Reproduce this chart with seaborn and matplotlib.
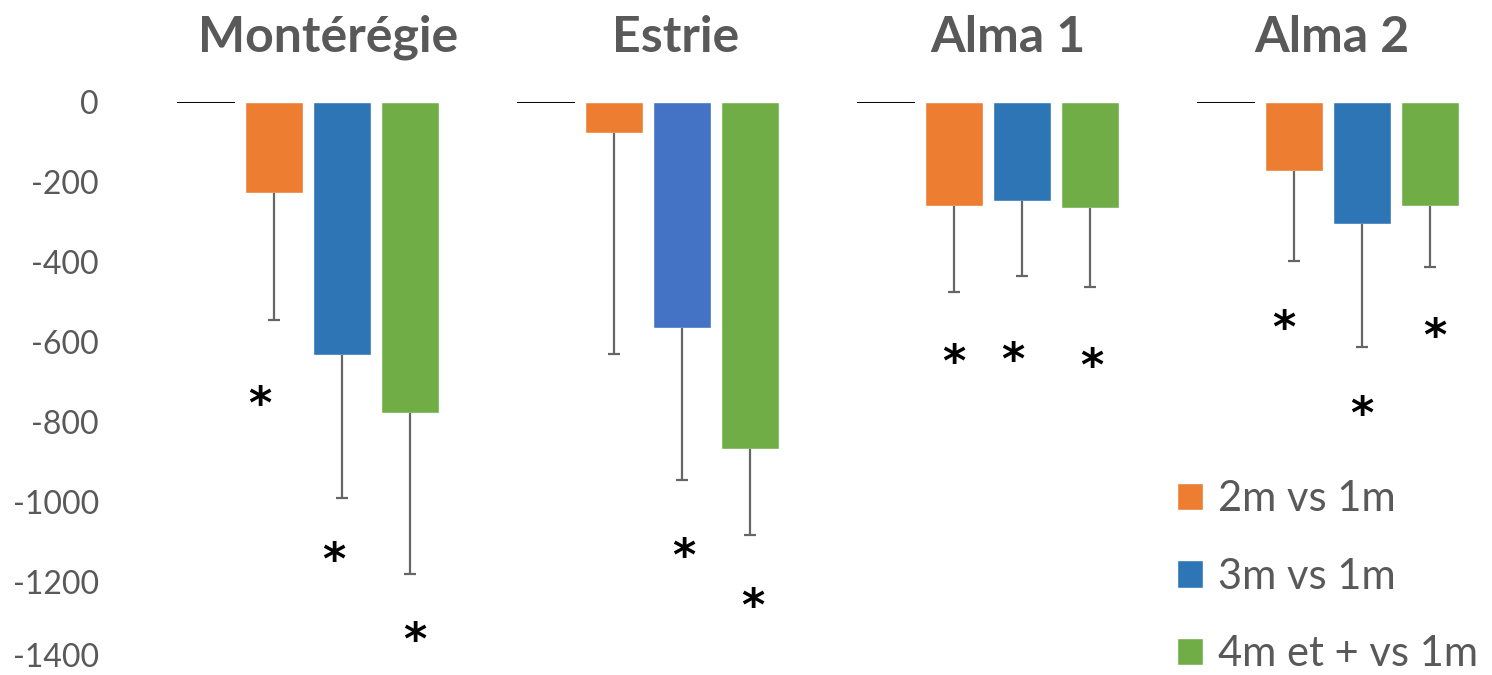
import matplotlib
matplotlib.use("Agg")
import matplotlib.pyplot as plt
import matplotlib.transforms as mtransforms
import pandas as pd
import seaborn as sns

# ---- data -------------------------------------------------------------
sites = ["Montérégie", "Estrie", "Alma 1", "Alma 2"]
series = ["1m", "2m vs 1m", "3m vs 1m", "4m et + vs 1m"]

# mean differences against the 1m reference (reference itself is 0)
diff_2m = [-227, -77, -260, -172]
diff_3m = [-632, -565, -247, -305]
diff_4m = [-777, -867, -265, -260]

# lower error-bar lengths
err_2m = [318, 553, 215, 226]
err_3m = [358, 380, 188, 307]
err_4m = [403, 215, 197, 152]

# significance markers: y level of the "*" under each bar (None = not significant)
star_2m = [-738, None, -635, -548]
star_3m = [-1128, -1120, -628, -765]
star_4m = [-1328, -1245, -645, -570]

y_ticks = [0, -200, -400, -600, -800, -1000, -1200, -1400]

# ---- styling ----------------------------------------------------------
colors = {"1m": "#FFFFFF", "2m vs 1m": "#ED7D31",
          "3m vs 1m": "#2E75B6", "4m et + vs 1m": "#70AD47"}
estrie_blue = "#4472C4"
grey_text = "#595959"
err_color = "#666666"
title_dx = [0.06, 1.08, 2.06, 3.01]   # horizontal placement of the site headers
# small horizontal nudges (pixels) of the hand-placed asterisks
star_nudge = [[-14, 0, 0, -10], [-8, 2, -9, 0], [5, 3, 2, 5]]

sns.set_theme(style="white")
plt.rcParams["font.family"] = ["Lato", "DejaVu Sans"]

rows = []
for i, s in enumerate(sites):
    rows.append((s, "1m", 0))
    rows.append((s, "2m vs 1m", diff_2m[i]))
    rows.append((s, "3m vs 1m", diff_3m[i]))
    rows.append((s, "4m et + vs 1m", diff_4m[i]))
df = pd.DataFrame(rows, columns=["site", "series", "value"])

fig = plt.figure(figsize=(14.92, 6.75), dpi=100)
ax = fig.add_axes([121 / 1492, 13 / 675, 1360 / 1492, 560 / 675])

sns.barplot(data=df, x="site", y="value", hue="series", order=sites,
            hue_order=series, palette=colors, gap=0.15, errorbar=None,
            legend=False, ax=ax, saturation=1)

# reference level drawn as a flat black bar
for p in ax.containers[0]:
    p.set_facecolor("none")
    p.set_edgecolor("black")
    p.set_linewidth(1.4)

ax.containers[2][1].set_facecolor(estrie_blue)

errs = [err_2m, err_3m, err_4m]
vals = [diff_2m, diff_3m, diff_4m]
stars = [star_2m, star_3m, star_4m]
for k in range(3):
    cont = ax.containers[k + 1]
    for i, p in enumerate(cont):
        xc = p.get_x() + p.get_width() / 2
        _, caps, _ = ax.errorbar(xc, vals[k][i], yerr=[[errs[k][i]], [0]],
                                 fmt="none", ecolor=err_color, elinewidth=1.6,
                                 capsize=4.5, capthick=1.6, clip_on=False,
                                 zorder=3)
        # keep only the lower cap
        if len(caps) > 1:
            caps[1].set_visible(False)
        if stars[k][i] is not None:
            shift = mtransforms.ScaledTranslation(star_nudge[k][i] / 100,
                                                  -8 / 100, fig.dpi_scale_trans)
            ax.text(xc, stars[k][i], "*", ha="center", va="center",
                    fontsize=32, fontweight="bold", color="black",
                    fontfamily="DejaVu Sans",
                    transform=ax.transData + shift)

ax.set_ylim(-1400, 0)
ax.set_xlim(-0.55, 3.45)
ax.set_yticks(y_ticks)
ax.set_yticklabels([str(v) for v in y_ticks])
ax.tick_params(axis="y", length=0, labelsize=23, labelcolor=grey_text, pad=16)
ax.set_xticks([])
ax.set_xlabel("")
ax.set_ylabel("")
for sp in ax.spines.values():
    sp.set_visible(False)

# lift the lowest tick label so it stays inside the canvas
low_lbl = ax.get_yticklabels()[-1]
low_lbl.set_transform(low_lbl.get_transform() +
                      mtransforms.ScaledTranslation(0, 7 / 100, fig.dpi_scale_trans))

for i, s in enumerate(sites):
    ax.text(title_dx[i], 1.0 + 65 / 560, s, transform=ax.get_xaxis_transform(),
            ha="center", va="center", fontsize=36, fontweight="bold",
            color=grey_text)

handles = [plt.Rectangle((0, 0), 1, 1, facecolor=colors[s]) for s in series[1:]]
leg = fig.legend(handles, series[1:], loc="upper left",
                 bbox_to_anchor=(1177 / 1492, 1 - 480 / 675), frameon=False,
                 fontsize=30, handlelength=0.63, handleheight=0.63,
                 handletextpad=0.35, labelspacing=0.95, borderpad=0,
                 borderaxespad=0)
for t in leg.get_texts():
    t.set_color(grey_text)

fig.savefig("out.png", dpi=100)
